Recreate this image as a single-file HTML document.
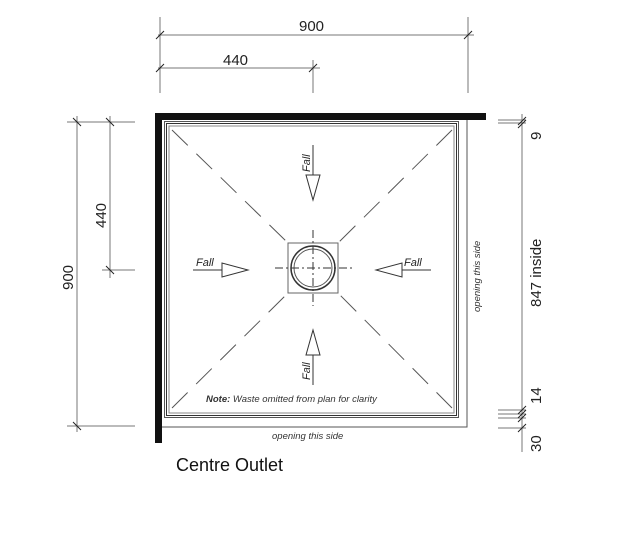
<!DOCTYPE html>
<html><head><style>body{margin:0;background:#fff}svg{display:block}text{font-family:"Liberation Sans",sans-serif}</style></head><body>
<svg width="632" height="548" viewBox="0 0 632 548">
<g stroke="#777" stroke-width="1" fill="none">
<!-- top dims -->
<line x1="158" y1="35" x2="474" y2="35"/><line x1="160" y1="17" x2="160" y2="93"/><line x1="468" y1="17" x2="468" y2="93"/>
<line x1="158" y1="68" x2="320" y2="68"/><line x1="313" y1="60" x2="313" y2="93"/>
<!-- left dims -->
<line x1="77" y1="116" x2="77" y2="432"/><line x1="67" y1="122" x2="135" y2="122"/><line x1="67" y1="426" x2="135" y2="426"/>
<line x1="110" y1="116" x2="110" y2="278"/><line x1="102" y1="270" x2="135" y2="270"/>
<!-- right dims -->
<line x1="522" y1="114" x2="522" y2="452"/>
<line x1="498" y1="120" x2="526" y2="120"/><line x1="498" y1="123" x2="526" y2="123"/>
<line x1="498" y1="410" x2="526" y2="410"/><line x1="498" y1="414" x2="526" y2="414"/><line x1="498" y1="418" x2="526" y2="418"/><line x1="498" y1="428" x2="526" y2="428"/>
</g>
<g stroke="#222" stroke-width="1">
<line x1="156" y1="39" x2="164" y2="31"/><line x1="464" y1="39" x2="472" y2="31"/>
<line x1="156" y1="72" x2="164" y2="64"/><line x1="309" y1="72" x2="317" y2="64"/>
<line x1="73" y1="118" x2="81" y2="126"/><line x1="73" y1="422" x2="81" y2="430"/>
<line x1="106" y1="118" x2="114" y2="126"/><line x1="106" y1="266" x2="114" y2="274"/>
<line x1="518" y1="125" x2="526" y2="117"/><line x1="518" y1="128" x2="526" y2="120"/>
<line x1="518" y1="414" x2="526" y2="406"/><line x1="518" y1="418" x2="526" y2="410"/><line x1="518" y1="422" x2="526" y2="414"/><line x1="518" y1="432" x2="526" y2="424"/>
</g>
<!-- walls -->
<rect x="155" y="113" width="331" height="7" fill="#111"/>
<rect x="155" y="113" width="7" height="330" fill="#111"/>
<!-- tray -->
<g fill="none" stroke="#555" stroke-width="1">
<polyline points="162,427 467,427 467,120"/>
<rect x="164.5" y="121.5" width="294" height="296"/>
<rect x="166.5" y="123.5" width="290" height="292" stroke="#333"/>
<rect x="169" y="126" width="285" height="287" stroke="#888"/>
</g>
<!-- diagonals -->
<g stroke="#555" stroke-width="1" stroke-dasharray="22,12">
<line x1="172" y1="130" x2="288" y2="243"/><line x1="452" y1="130" x2="338" y2="243"/>
<line x1="172" y1="408" x2="288" y2="293"/><line x1="452" y1="408" x2="338" y2="293"/>
</g>
<!-- drain -->
<rect x="288" y="243" width="50" height="50" fill="none" stroke="#666"/>
<circle cx="313" cy="268" r="22" fill="none" stroke="#333" stroke-width="1.5"/>
<circle cx="313" cy="268" r="19" fill="none" stroke="#555"/>
<g stroke="#333" stroke-dasharray="8,3,2,3"><line x1="275" y1="268" x2="352" y2="268"/><line x1="313" y1="230" x2="313" y2="306"/></g>
<!-- fall arrows -->
<g stroke="#333" fill="#fff" stroke-width="1">
<line x1="313" y1="145" x2="313" y2="175"/><polygon points="306,175 320,175 313,200"/>
<line x1="313" y1="355" x2="313" y2="385"/><polygon points="306,355 320,355 313,330"/>
<line x1="193" y1="270" x2="222" y2="270"/><polygon points="222,263 222,277 248,270"/>
<line x1="402" y1="270" x2="431" y2="270"/><polygon points="402,263 402,277 376,270"/>
</g>
<g font-size="11" font-style="italic" fill="#222">
<text x="196" y="266">Fall</text><text x="404" y="266">Fall</text>
<text transform="translate(310,172) rotate(-90)">Fall</text>
<text transform="translate(310,380) rotate(-90)">Fall</text>
</g>
<text x="206" y="402" font-size="9.5" font-style="italic" fill="#333"><tspan font-weight="bold">Note:</tspan> Waste omitted from plan for clarity</text>
<text x="272" y="439" font-size="9.5" font-style="italic" fill="#333">opening this side</text>
<text transform="translate(480,312) rotate(-90)" font-size="9.5" font-style="italic" fill="#333">opening this side</text>
<g font-size="15" fill="#222">
<text x="299" y="31">900</text><text x="223" y="65">440</text>
<text transform="translate(73,290) rotate(-90)">900</text>
<text transform="translate(106,228) rotate(-90)">440</text>
<text transform="translate(541,307) rotate(-90)">847 inside</text>
<text transform="translate(541,140) rotate(-90)">9</text>
<text transform="translate(541,404) rotate(-90)">14</text>
<text transform="translate(541,452) rotate(-90)">30</text>
</g>
<text x="176" y="471" font-size="18" fill="#111">Centre Outlet</text>
</svg>
</body></html>
